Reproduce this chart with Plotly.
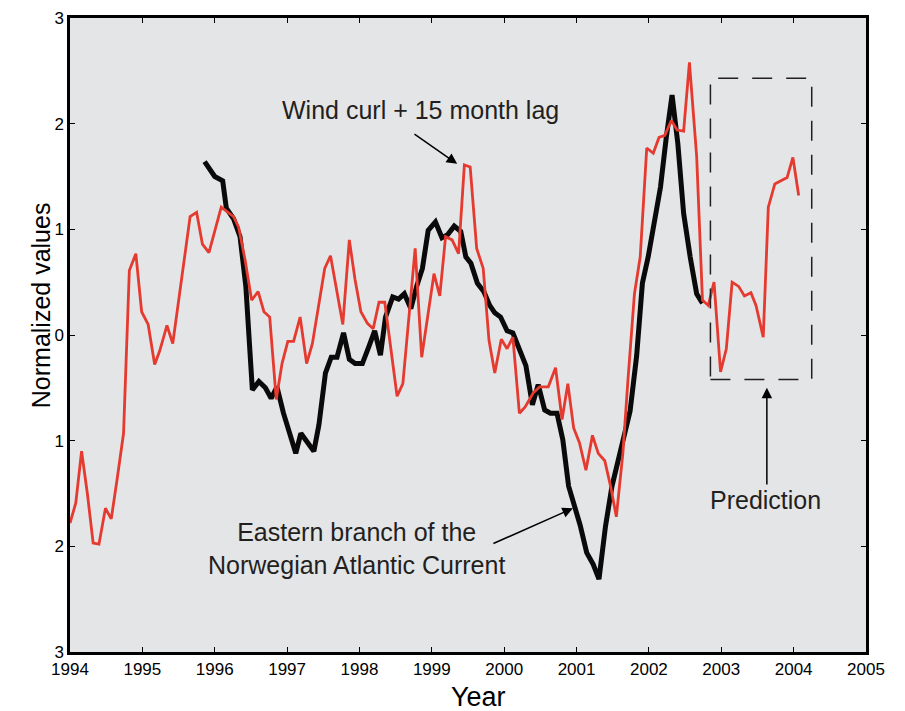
import plotly.graph_objects as go

# Wind curl + 15 month lag (red)
wind_years = [1994.00, 1994.08, 1994.16, 1994.24, 1994.32, 1994.40, 1994.49, 1994.57, 1994.65, 1994.74,
              1994.82, 1994.91, 1994.99, 1995.08, 1995.17, 1995.24, 1995.34, 1995.42, 1995.66, 1995.75,
              1995.83, 1995.92, 1996.09, 1996.16, 1996.26, 1996.33, 1996.42, 1996.51, 1996.60, 1996.68,
              1996.76, 1996.85, 1996.93, 1997.01, 1997.09, 1997.18, 1997.27, 1997.35, 1997.44, 1997.52,
              1997.60, 1997.68, 1997.77, 1997.86, 1997.94, 1998.02, 1998.11, 1998.19, 1998.27, 1998.35,
              1998.52, 1998.60, 1998.77, 1998.86, 1999.03, 1999.11, 1999.19, 1999.28, 1999.37, 1999.45,
              1999.53, 1999.62, 1999.71, 1999.79, 1999.87, 1999.96, 2000.04, 2000.12, 2000.21, 2000.29,
              2000.40, 2000.49, 2000.61, 2000.71, 2000.80, 2000.88, 2000.96, 2001.04, 2001.13, 2001.22,
              2001.30, 2001.39, 2001.47, 2001.55, 2001.64, 2001.71, 2001.80, 2001.88, 2001.97, 2002.06,
              2002.14, 2002.22, 2002.31, 2002.39, 2002.48, 2002.56, 2002.66, 2002.74, 2002.82, 2002.90,
              2002.99, 2003.07, 2003.15, 2003.24, 2003.32, 2003.41, 2003.48, 2003.58, 2003.65, 2003.74,
              2003.82, 2003.91, 2003.99, 2004.07]
wind_values = [-1.78, -1.59, -1.10, -1.50, -1.97, -1.98, -1.64, -1.74, -1.37, -0.93,
               0.61, 0.77, 0.22, 0.10, -0.28, -0.15, 0.09, -0.08, 1.12, 1.16,
               0.86, 0.78, 1.21, 1.17, 1.12, 1.02, 0.71, 0.33, 0.41, 0.22,
               0.17, -0.61, -0.27, -0.06, -0.06, 0.17, -0.27, -0.08, 0.30, 0.63,
               0.75, 0.46, 0.10, 0.90, 0.52, 0.22, 0.11, 0.06, 0.31, 0.31,
               -0.58, -0.46, 0.82, -0.21, 0.58, 0.37, 0.93, 0.90, 0.77, 1.61,
               1.59, 0.82, 0.63, -0.05, -0.36, -0.04, -0.13, -0.02, -0.74, -0.68,
               -0.55, -0.49, -0.49, -0.31, -0.80, -0.46, -0.88, -1.02, -1.28, -0.95,
               -1.12, -1.19, -1.43, -1.72, -1.12, -0.43, 0.39, 0.74, 1.77, 1.72,
               1.87, 1.89, 2.03, 1.94, 1.93, 2.58, 1.69, 0.33, 0.28, 0.50,
               -0.35, -0.13, 0.50, 0.46, 0.37, 0.40, 0.28, -0.02, 1.21, 1.43,
               1.46, 1.49, 1.68, 1.32]

# Eastern branch of the Norwegian Atlantic Current (black)
nac_years = [1995.86, 1996.00, 1996.11, 1996.16, 1996.26, 1996.35, 1996.43, 1996.52, 1996.61, 1996.70,
             1996.78, 1996.86, 1996.95, 1997.04, 1997.12, 1997.19, 1997.28, 1997.37, 1997.44, 1997.53,
             1997.61, 1997.69, 1997.78, 1997.86, 1997.94, 1998.04, 1998.13, 1998.21, 1998.29, 1998.36,
             1998.46, 1998.54, 1998.62, 1998.71, 1998.79, 1998.87, 1998.95, 1999.05, 1999.14, 1999.22,
             1999.31, 1999.40, 1999.47, 1999.54, 1999.63, 1999.72, 1999.80, 1999.87, 1999.95, 2000.04,
             2000.12, 2000.22, 2000.30, 2000.39, 2000.47, 2000.56, 2000.64, 2000.73, 2000.81, 2000.89,
             2000.97, 2001.05, 2001.14, 2001.23, 2001.31, 2001.40, 2001.49, 2001.57, 2001.66, 2001.74,
             2001.83, 2001.91, 2001.99, 2002.08, 2002.16, 2002.24, 2002.32, 2002.40, 2002.48, 2002.57,
             2002.66, 2002.74]
nac_values = [1.64, 1.50, 1.46, 1.20, 1.10, 0.93, 0.46, -0.52, -0.44, -0.50,
              -0.60, -0.49, -0.74, -0.96, -1.12, -0.93, -1.01, -1.10, -0.85, -0.36,
              -0.21, -0.21, 0.02, -0.23, -0.27, -0.27, -0.11, 0.04, -0.19, 0.17,
              0.36, 0.34, 0.39, 0.25, 0.46, 0.63, 0.99, 1.07, 0.92, 0.95,
              1.03, 0.98, 0.74, 0.68, 0.49, 0.41, 0.28, 0.21, 0.17, 0.04,
              0.02, -0.17, -0.29, -0.66, -0.47, -0.71, -0.74, -0.74, -0.99, -1.43,
              -1.62, -1.80, -2.06, -2.17, -2.31, -1.81, -1.43, -1.21, -0.96, -0.72,
              -0.20, 0.49, 0.74, 1.09, 1.40, 1.87, 2.27, 1.81, 1.15, 0.74,
              0.39, 0.30]

x_ticks = list(range(1994, 2006))
y_ticks = [-3, -2, -1, 0, 1, 2, 3]
y_tick_labels = ["3", "2", "1", "0", "1", "2", "3"]

# Prediction box (data extents)
box_x = [2002.85, 2004.25]
box_y = [-0.42, 2.43]

TXT = "#231f20"
SANS = "Liberation Sans, Arial, Helvetica, sans-serif"

fig = go.Figure()
fig.add_trace(go.Scatter(x=nac_years, y=nac_values, mode="lines",
                         line=dict(color="#0a0a0a", width=5), showlegend=False))
fig.add_trace(go.Scatter(x=wind_years, y=wind_values, mode="lines",
                         line=dict(color="#e53a2f", width=2.8), showlegend=False))

fig.add_shape(type="rect", x0=box_x[0], x1=box_x[1], y0=box_y[0], y1=box_y[1],
              xref="x", yref="y", line=dict(color=TXT, width=1.5, dash="20px,14px"))

annos = [
    dict(x=1999.35, y=1.62, ax=1998.74, ay=1.91, axref="x", ayref="y", xref="x", yref="y",
         text="", showarrow=True, arrowhead=2, arrowsize=1.4, arrowwidth=1.5, arrowcolor="#000"),
    dict(x=2000.95, y=-1.64, ax=1999.83, ay=-1.98, axref="x", ayref="y", xref="x", yref="y",
         text="", showarrow=True, arrowhead=2, arrowsize=1.4, arrowwidth=1.5, arrowcolor="#000"),
    dict(x=2003.63, y=-0.50, ax=2003.63, ay=-1.43, axref="x", ayref="y", xref="x", yref="y",
         text="", showarrow=True, arrowhead=2, arrowsize=1.4, arrowwidth=1.5, arrowcolor="#000"),
    dict(x=1998.85, y=2.13, xref="x", yref="y", text="Wind curl + 15 month lag", showarrow=False,
         font=dict(family=SANS, size=25, color=TXT)),
    dict(x=1997.96, y=-2.02, xref="x", yref="y",
         text="Eastern branch of the<br>Norwegian Atlantic Current", showarrow=False,
         font=dict(family=SANS, size=25, color=TXT)),
    dict(x=2003.61, y=-1.56, xref="x", yref="y", text="Prediction", showarrow=False,
         font=dict(family=SANS, size=25, color=TXT)),
    dict(x=-0.0565, y=0.547, xref="paper", yref="paper", text="Normalized values", textangle=-90,
         showarrow=False, font=dict(family=SANS, size=25, color="#000")),
    dict(x=0.513, y=-0.071, xref="paper", yref="paper", text="Year", showarrow=False,
         yanchor="middle", font=dict(family=SANS, size=27, color="#000")),
]
for a in annos:
    fig.add_annotation(**a)

fig.update_layout(
    width=905, height=711,
    margin=dict(l=70, r=39, t=18, b=59, autoexpand=False),
    paper_bgcolor="white", plot_bgcolor="#e4e5e7",
    xaxis=dict(range=[1994, 2005], tickvals=x_ticks, ticktext=[str(t) for t in x_ticks],
               ticks="inside", ticklen=5, tickwidth=1, tickcolor="#000", mirror="ticks",
               showline=True, linecolor="#000", linewidth=2.5, showgrid=False, zeroline=False,
               tickfont=dict(family=SANS, size=17, color="#000")),
    yaxis=dict(range=[-3, 3], tickvals=y_ticks, ticktext=y_tick_labels,
               ticks="inside", ticklen=5, tickwidth=1, tickcolor="#000", mirror="ticks",
               showline=True, linecolor="#000", linewidth=2.5, showgrid=False, zeroline=False,
               tickfont=dict(family=SANS, size=17, color="#000")),
)

fig.write_html("out.html", config={"displayModeBar": False},
               post_script="document.body.style.margin='0';document.body.style.overflow='hidden';")
